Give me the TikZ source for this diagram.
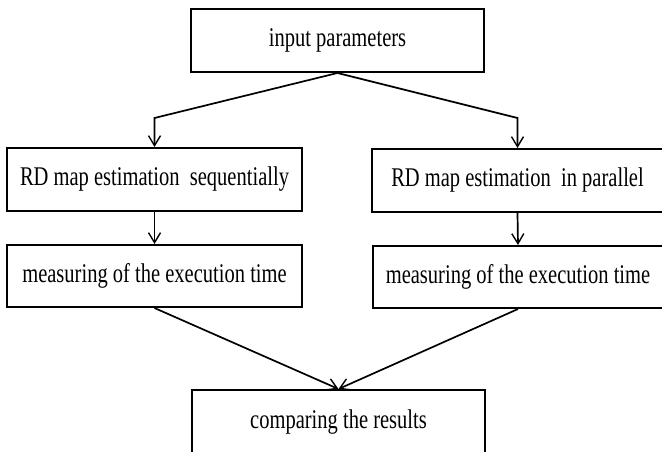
\documentclass[tikz,border=0pt]{standalone}
\usepackage{fontspec}
\setmainfont{Liberation Serif}
\usetikzlibrary{arrows.meta}
\newcommand{\narrow}[1]{\scalebox{0.76}[1]{#1}}
\tikzset{
  stagebox/.style={draw, line width=2pt, inner sep=0pt, font=\fontsize{27}{31}\selectfont},
  flow/.style={line width=1.7pt, -{Straight Barb[length=10pt,width=12pt,line width=1.4pt]}}
}
\begin{document}
\begin{tikzpicture}[x=1pt, y=-1pt]
\useasboundingbox (0,0) rectangle (662,452);

\node[stagebox, minimum width=293pt, minimum height=63pt] (input) at (337.5, 40.5) {\narrow{input parameters}};
\node[stagebox, minimum width=295pt, minimum height=63pt] (seq) at (154.5, 179.5) {\narrow{RD map estimation\ \ sequentially}};
\node[stagebox, minimum width=295pt, minimum height=62pt] (seqtime) at (154.5, 276) {\narrow{measuring of the execution time}};
\node[stagebox, minimum width=291pt, minimum height=63pt] (par) at (517.5, 180.5) {\narrow{RD map estimation\ \ in parallel}};
\node[stagebox, minimum width=290pt, minimum height=62pt] (partime) at (518, 277) {\narrow{measuring of the execution time}};
\node[stagebox, minimum width=293pt, minimum height=65pt] (compare) at (338.5, 422.5) {\narrow{comparing the results}};

\coordinate (lbend) at (154.5, 118);
\coordinate (rbend) at (517.5, 118);

\draw[flow] (input.south) -- (lbend) -- (seq.north);
\draw[flow] (input.south) -- (rbend) -- (par.north);
\draw[flow] (seq.south) -- (seqtime.north);
\draw[flow] (par.south) -- (partime.north);
\draw[flow] (seqtime.south) -- (compare.north);
\draw[flow] (partime.south) -- (compare.north);
\end{tikzpicture}
\end{document}
